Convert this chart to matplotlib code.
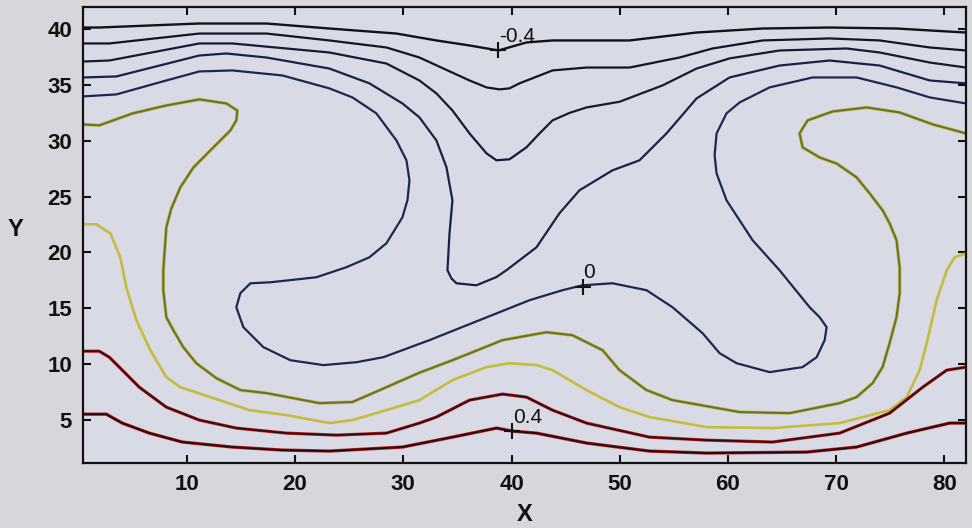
import matplotlib
matplotlib.use("Agg")
import matplotlib.pyplot as plt
import matplotlib.patheffects as pe

# ---- contour levels and traced contour lines (X, Y data units) ----
levels = [-0.4, -0.3, -0.2, -0.1, 0.0, 0.1, 0.2, 0.3, 0.4]

c_m04_x = [0.4, 1.90, 11.15, 17.35, 23.17, 29.36, 33.06, 36.12, 38.79, 41.38, 43.79, 50.91, 57.10, 63.21, 69.40, 75.59, 82.0]
c_m04_y = [40.16, 40.16, 40.52, 40.52, 40.07, 39.62, 39.00, 38.55, 38.10, 38.82, 39.00, 39.00, 39.71, 40.07, 40.16, 40.07, 39.71]

c_m03_x = [0.4, 2.83, 11.15, 17.35, 23.17, 28.44, 31.49, 36.12, 37.69, 38.89, 39.81, 40.73, 43.79, 46.93, 50.91, 55.53, 58.58, 63.21, 69.40, 74.02, 78.65, 82.0]
c_m03_y = [38.73, 38.73, 39.62, 39.62, 39.00, 38.37, 37.47, 35.41, 34.79, 34.61, 34.70, 35.15, 36.31, 36.57, 36.57, 37.47, 38.28, 39.00, 39.18, 39.00, 38.37, 38.10]

c_m02_x = [0.4, 2.83, 11.15, 14.20, 23.17, 28.44, 31.49, 33.06, 34.54, 36.12, 37.69, 38.61, 39.81, 41.38, 42.59, 43.79, 45.36, 46.93, 49.98, 53.96, 57.10, 60.15, 64.77, 70.97, 74.02, 78.65, 82.0]
c_m02_y = [37.11, 37.20, 38.73, 38.73, 37.92, 36.93, 35.41, 34.25, 32.72, 30.66, 28.87, 28.25, 28.34, 29.41, 30.66, 31.83, 32.50, 32.99, 33.50, 34.97, 36.48, 37.39, 38.10, 38.28, 37.92, 37.02, 36.57]

c_m01_x = [0.4, 3.48, 11.15, 13.65, 17.35, 23.17, 26.87, 29.92, 31.49, 33.06, 33.99, 34.54, 34.27, 34.08, 34.45, 34.91, 36.76, 38.61, 39.53, 42.31, 44.43, 46.28, 49.33, 51.83, 54.32, 57.10, 60.15, 64.77, 69.40, 74.02, 78.65, 82.0]
c_m01_y = [35.68, 35.77, 37.65, 37.83, 37.47, 36.48, 35.15, 33.35, 32.10, 30.03, 27.62, 24.66, 21.70, 18.39, 17.65, 17.22, 17.04, 17.78, 18.39, 20.45, 23.50, 25.56, 27.35, 28.25, 30.66, 33.80, 35.68, 36.75, 37.20, 36.75, 35.41, 35.15]

c_000_x = [0.4, 3.48, 8.10, 11.15, 14.20, 18.82, 23.17, 25.30, 27.51, 29.36, 30.29, 30.57, 30.38, 29.92, 28.44, 26.87, 24.74, 21.97, 17.72, 15.87, 14.94, 14.57, 15.22, 17.07, 19.56, 22.61, 25.67, 28.16, 32.42, 37.04, 41.66, 44.71, 46.56, 49.33, 52.47, 54.88, 57.66, 59.23, 60.80, 63.85, 66.90, 68.20, 68.94, 69.12, 68.47, 67.55, 64.77, 62.28, 59.87, 58.95, 58.77, 58.95, 59.87, 61.08, 63.85, 67.83, 71.89, 75.59, 78.65, 82.0]
c_000_y = [33.98, 34.16, 35.41, 36.22, 36.31, 35.86, 34.70, 33.89, 32.46, 30.04, 28.25, 26.45, 24.66, 23.14, 20.81, 19.55, 18.66, 17.76, 17.31, 17.22, 16.33, 15.07, 13.28, 11.49, 10.32, 9.88, 10.14, 10.59, 12.12, 13.91, 15.70, 16.60, 17.04, 17.22, 16.60, 15.07, 12.74, 10.95, 10.05, 9.25, 9.70, 10.59, 12.12, 13.28, 14.18, 15.07, 18.39, 21.08, 24.66, 27.08, 28.69, 30.66, 32.46, 33.44, 34.79, 35.68, 35.68, 34.79, 33.89, 33.35]

c_p01_x = [0.4, 1.90, 4.96, 8.10, 11.15, 13.65, 14.66, 14.57, 14.02, 12.17, 10.60, 9.39, 8.55, 8.10, 7.82, 7.82, 8.10, 8.75, 9.67, 10.87, 12.72, 14.94, 17.35, 22.25, 25.30, 28.44, 31.49, 34.54, 39.17, 43.23, 45.63, 48.41, 49.98, 52.47, 54.88, 61.08, 65.70, 70.32, 71.89, 73.37, 74.29, 74.94, 75.58, 75.87, 75.87, 75.58, 74.94, 74.29, 73.09, 71.89, 70.04, 68.47, 66.90, 66.62, 67.36, 69.68, 72.82, 75.87, 78.93, 82.0]
c_p01_y = [31.47, 31.38, 32.45, 33.17, 33.71, 33.35, 32.72, 31.83, 30.93, 29.14, 27.60, 25.82, 23.90, 22.24, 18.39, 16.60, 14.18, 13.01, 11.49, 10.05, 8.71, 7.64, 7.37, 6.47, 6.57, 7.90, 9.20, 10.32, 12.12, 12.83, 12.56, 11.22, 9.43, 7.64, 6.74, 5.67, 5.57, 6.47, 7.01, 8.26, 9.70, 11.85, 14.18, 16.33, 18.66, 21.08, 22.60, 23.77, 25.29, 26.72, 27.96, 28.51, 29.41, 30.66, 31.83, 32.63, 32.99, 32.54, 31.47, 30.66]

c_p02_x = [0.4, 1.63, 2.92, 3.85, 4.40, 5.33, 6.62, 8.10, 9.39, 13.00, 15.77, 19.19, 23.17, 25.30, 28.44, 31.49, 34.54, 37.69, 39.81, 42.31, 43.79, 46.93, 49.98, 52.75, 58.03, 64.13, 70.32, 74.94, 76.52, 77.72, 78.37, 79.29, 80.22, 80.95, 82.0]
c_p02_y = [22.51, 22.51, 21.70, 19.55, 16.86, 13.91, 11.22, 8.80, 7.90, 6.74, 5.84, 5.40, 4.68, 4.95, 5.84, 6.74, 8.53, 9.70, 10.05, 9.88, 9.43, 7.64, 6.11, 5.22, 4.32, 4.23, 4.68, 5.84, 7.01, 9.43, 11.85, 15.70, 18.39, 19.55, 19.91]

c_p03_x = [0.4, 1.90, 2.83, 4.03, 5.60, 8.10, 11.15, 14.57, 19.19, 23.82, 28.44, 31.49, 33.06, 36.12, 39.17, 41.38, 43.79, 46.93, 52.75, 58.03, 64.13, 70.32, 74.94, 78.00, 80.22, 82.0]
c_p03_y = [11.13, 11.13, 10.59, 9.43, 7.90, 6.11, 4.95, 4.23, 3.78, 3.60, 3.78, 4.68, 5.22, 6.74, 7.28, 7.01, 5.84, 4.68, 3.42, 3.15, 2.98, 3.78, 5.57, 7.90, 9.43, 9.70]

c_p04_x = [0.4, 2.55, 4.03, 6.53, 9.58, 14.20, 18.82, 23.17, 29.92, 34.54, 38.61, 40.09, 42.31, 46.93, 52.75, 58.03, 67.27, 71.89, 76.52, 80.50, 82.0]
c_p04_y = [5.48, 5.48, 4.68, 3.78, 2.98, 2.53, 2.26, 2.17, 2.53, 3.42, 4.23, 3.96, 3.78, 2.89, 2.17, 1.99, 2.08, 2.53, 3.78, 4.68, 4.68]

contour_x = [c_m04_x, c_m03_x, c_m02_x, c_m01_x, c_000_x, c_p01_x, c_p02_x, c_p03_x, c_p04_x]
contour_y = [c_m04_y, c_m03_y, c_m02_y, c_m01_y, c_000_y, c_p01_y, c_p02_y, c_p03_y, c_p04_y]

# contour labels
label_text = ["-0.4", "0", "0.4"]
label_x = [38.79, 46.56, 40.09]
label_y = [38.10, 16.93, 3.96]

x_ticks = [10, 20, 30, 40, 50, 60, 70, 80]
y_ticks = [5, 10, 15, 20, 25, 30, 35, 40]

# ---- styling ----
line_colors = ["#121218", "#131529", "#151b37", "#182246", "#1b2850",
               "#6a7026", "#c4bc3c", "#2c0c0e", "#240a0c"]
line_widths = [1.7, 1.6, 1.6, 1.6, 1.6, 1.4, 1.9, 1.3, 1.4]
fringe = [None, None, None, None, None, "#b8b850", None, "#c02424", "#c02424"]

plt.rcParams["font.family"] = ["Liberation Sans", "DejaVu Sans"]

fig = plt.figure(figsize=(9.72, 5.28), dpi=100, facecolor="#d7d6dc")
ax = fig.add_axes([83 / 972, 1 - 463 / 528, (966 - 83) / 972, (463 - 7) / 528])
ax.set_facecolor("#d8dae5")

for xs, ys, col, lw, fr in zip(contour_x, contour_y, line_colors, line_widths, fringe):
    line, = ax.plot(xs, ys, color=col, lw=lw, solid_joinstyle="round", solid_capstyle="round")
    if fr is not None:
        line.set_path_effects([pe.Stroke(linewidth=lw + 1.0, foreground=fr), pe.Normal()])

for t, lx, ly in zip(label_text, label_x, label_y):
    ax.plot([lx], [ly], marker="+", ms=12, mew=1.5, color="#111111", ls="none")
    ax.annotate(t, (lx, ly), xytext=(0.5, 5.8), textcoords="offset points",
                ha="left", va="baseline", fontsize=15, color="#111111")

ax.set_xlim(0.4, 82.0)
ax.set_ylim(1.1, 42.0)
ax.set_xticks(x_ticks)
ax.set_yticks(y_ticks)
ax.tick_params(direction="in", length=6, width=1.5, top=True, right=True,
               labelsize=16, pad=8, colors="#111111")
for lab in ax.get_xticklabels() + ax.get_yticklabels():
    lab.set_fontweight("bold")
for sp in ax.spines.values():
    sp.set_linewidth(1.6)
    sp.set_color("#111111")

ax.set_xlabel("X", fontsize=17, fontweight="bold", color="#111111", va="center")
ax.xaxis.set_label_coords(0.5, -0.114)
ax.set_ylabel("Y", fontsize=17, fontweight="bold", color="#111111", rotation=0,
              ha="center", va="center")
ax.yaxis.set_label_coords(-0.077, 0.513)

fig.savefig("out.png", dpi=100, facecolor=fig.get_facecolor())
